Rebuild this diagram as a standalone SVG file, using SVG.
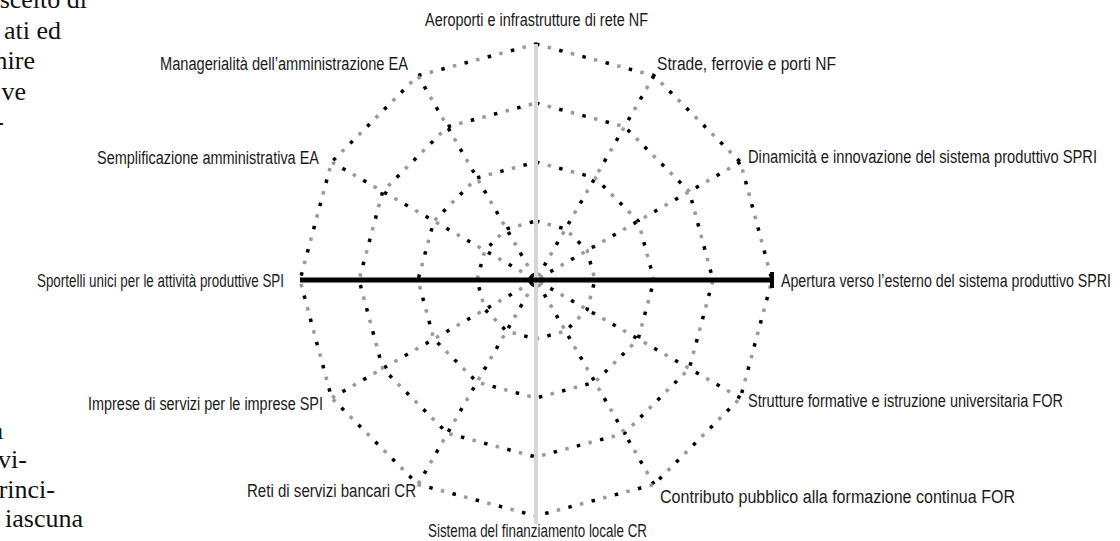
<svg xmlns="http://www.w3.org/2000/svg" width="1120" height="541" viewBox="0 0 1120 541">
<style>
.dk{fill:none;stroke:#000;stroke-width:3.5;stroke-dasharray:3.5 20.5}
.lt{fill:none;stroke:#9a9a9a;stroke-width:3.5;stroke-dasharray:3.5 20.5;stroke-dashoffset:-12}
.lbl{font-family:"Liberation Sans Narrow","Liberation Sans",Arial,sans-serif;font-size:18px;fill:#1a1a1a}
.body{font-family:"Liberation Serif","Times New Roman",serif;font-size:26px;fill:#111;text-anchor:end}
</style>
<defs>
<g id="web">
<polygon points="536,44 654,75.6 740.4,162 772,280 740.4,398 654,484.4 536,516 418,484.4 331.6,398 300,280 331.6,162 418,75.6"/>
<polygon points="536,103 624.5,126.7 689.3,191.5 713,280 689.3,368.5 624.5,433.3 536,457 447.5,433.3 382.7,368.5 359,280 382.7,191.5 447.5,126.7"/>
<polygon points="536,162 595,177.8 638.2,221 654,280 638.2,339 595,382.2 536,398 477,382.2 433.8,339 418,280 433.8,221 477,177.8"/>
<polygon points="536,221 565.5,228.9 587.1,250.5 595,280 587.1,309.5 565.5,331.1 536,339 506.5,331.1 484.9,309.5 477,280 484.9,250.5 506.5,228.9"/>
<line x1="654" y1="75.6" x2="418" y2="484.4"/>
<line x1="740.4" y1="162" x2="331.6" y2="398"/>
<line x1="740.4" y1="398" x2="331.6" y2="162"/>
<line x1="654" y1="484.4" x2="418" y2="75.6"/>
</g>
</defs>
<rect width="1120" height="541" fill="#fff"/>
<g id="body-text">
<text class="body" x="87" y="8">scelto di</text>
<text class="body" x="61" y="39">ati ed</text>
<text class="body" x="35" y="69">nire</text>
<text class="body" x="26" y="100">ve</text>
<text class="body" x="4" y="130">-</text>
<text class="body" x="3" y="439">a</text>
<text class="body" x="27" y="468">vi-</text>
<text class="body" x="55" y="498">rinci-</text>
<text class="body" x="83" y="527">iascuna</text>
</g>
<g id="chart-grid">
<use href="#web" class="dk"/>
<use href="#web" class="lt"/>
</g>
<g id="axes">
<line x1="536" y1="44" x2="536" y2="524" stroke="#d6d6d6" stroke-width="4"/>
<line x1="300" y1="280" x2="772" y2="280" stroke="#000" stroke-width="5"/>
<rect x="770" y="272" width="4" height="16" fill="#000"/>
</g>
<g id="labels">
<text id="l-aeroporti" class="lbl" x="425" y="26" textLength="223" lengthAdjust="spacingAndGlyphs">Aeroporti e infrastrutture di rete NF</text>
<text id="l-strade" class="lbl" x="657" y="70" textLength="179" lengthAdjust="spacingAndGlyphs">Strade, ferrovie e porti NF</text>
<text id="l-dinamicita" class="lbl" x="748" y="163" textLength="349" lengthAdjust="spacingAndGlyphs">Dinamicità e innovazione del sistema produttivo SPRI</text>
<text id="l-apertura" class="lbl" x="781" y="287" textLength="330" lengthAdjust="spacingAndGlyphs">Apertura verso l’esterno del sistema produttivo SPRI</text>
<text id="l-strutture" class="lbl" x="748" y="407" textLength="315" lengthAdjust="spacingAndGlyphs">Strutture formative e istruzione universitaria FOR</text>
<text id="l-contributo" class="lbl" x="660" y="503" textLength="355" lengthAdjust="spacingAndGlyphs">Contributo pubblico alla formazione continua FOR</text>
<text id="l-sistema" class="lbl" x="428" y="537" textLength="219" lengthAdjust="spacingAndGlyphs">Sistema del finanziamento locale CR</text>
<text id="l-reti" class="lbl" x="247" y="497" textLength="169" lengthAdjust="spacingAndGlyphs">Reti di servizi bancari CR</text>
<text id="l-imprese" class="lbl" x="88" y="410" textLength="235" lengthAdjust="spacingAndGlyphs">Imprese di servizi per le imprese SPI</text>
<text id="l-sportelli" class="lbl" x="37" y="287" textLength="247" lengthAdjust="spacingAndGlyphs">Sportelli unici per le attività produttive SPI</text>
<text id="l-semplificazione" class="lbl" x="97" y="164" textLength="222" lengthAdjust="spacingAndGlyphs">Semplificazione amministrativa EA</text>
<text id="l-managerialita" class="lbl" x="160" y="70" textLength="248" lengthAdjust="spacingAndGlyphs">Managerialità dell’amministrazione EA</text>
</g>
</svg>
